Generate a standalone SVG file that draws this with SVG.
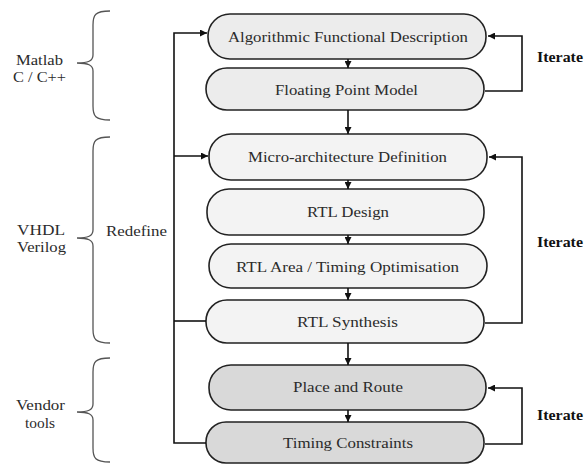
<svg xmlns="http://www.w3.org/2000/svg" width="584" height="464" viewBox="0 0 584 464" font-family="'Liberation Serif', 'Times New Roman', Times, serif">
<style>
.n{stroke:#222;stroke-width:1.6}
.a{fill:#ececec}.b{fill:#f3f3f3}.c{fill:#d9d9d9}
text{font-size:15px;fill:#2b2b2b}
.t,.l{text-anchor:middle}
.it{fill:#111;font-weight:bold}
.w{fill:none;stroke:#111;stroke-width:1.6}
.br{fill:none;stroke:#555;stroke-width:1.3}
</style>
<defs>
<marker id="ah" viewBox="0 0 10 10" refX="10" refY="5" markerWidth="7" markerHeight="7" markerUnits="userSpaceOnUse" orient="auto">
<path d="M0,0 L10,5 L0,10 z" fill="#111"/>
</marker>
</defs>
<rect width="584" height="464" fill="#fff"/>
<g id="braces">
<path class="br" d="M110,11 C95,11 93,15 93,25 L93,55 C93,61 88,63 77,63 C88,63 93,65 93,71 L93,106 C93,116 95,120 110,120"/>
<path class="br" d="M110,137 C95,137 93,141 93,151 L93,230 C93,236 88,238 77,238 C88,238 93,240 93,246 L93,329 C93,339 95,343 110,343"/>
<path class="br" d="M110,358 C95,358 93,362 93,372 L93,404 C93,410 88,412 77,412 C88,412 93,414 93,420 L93,448 C93,458 95,462 110,462"/>
</g>
<g id="labels" font-family="Liberation Serif, serif">
<text class="l" x="39.5" y="65" textLength="47" lengthAdjust="spacingAndGlyphs">Matlab</text>
<text class="l" x="39.5" y="82" textLength="53" lengthAdjust="spacingAndGlyphs">C / C++</text>
<text class="l" x="41" y="235" textLength="48" lengthAdjust="spacingAndGlyphs">VHDL</text>
<text class="l" x="41.5" y="252" textLength="49" lengthAdjust="spacingAndGlyphs">Verilog</text>
<text class="l" x="136.5" y="236" textLength="61" lengthAdjust="spacingAndGlyphs">Redefine</text>
<text class="l" x="40.5" y="410" textLength="49" lengthAdjust="spacingAndGlyphs">Vendor</text>
<text class="l" x="40" y="428" textLength="30" lengthAdjust="spacingAndGlyphs">tools</text>
<text class="it" x="537" y="62" textLength="46" lengthAdjust="spacingAndGlyphs">Iterate</text>
<text class="it" x="537" y="247" textLength="46" lengthAdjust="spacingAndGlyphs">Iterate</text>
<text class="it" x="537" y="420" textLength="46" lengthAdjust="spacingAndGlyphs">Iterate</text>
</g>
<g font-family="Liberation Serif, serif">
<g id="n1"><rect class="n a" x="208" y="14" width="278" height="45" rx="22"/><text class="t" x="348" y="42" textLength="240" lengthAdjust="spacingAndGlyphs">Algorithmic Functional Description</text></g>
<g id="n2"><rect class="n a" x="206" y="68" width="278" height="42" rx="21"/><text class="t" x="346.5" y="95" textLength="143" lengthAdjust="spacingAndGlyphs">Floating Point Model</text></g>
<g id="n3"><rect class="n b" x="209" y="134" width="278" height="46" rx="22"/><text class="t" x="347.5" y="162" textLength="199" lengthAdjust="spacingAndGlyphs">Micro-architecture Definition</text></g>
<g id="n4"><rect class="n b" x="207" y="189" width="277" height="46" rx="22"/><text class="t" x="348" y="217" textLength="82" lengthAdjust="spacingAndGlyphs">RTL Design</text></g>
<g id="n5"><rect class="n b" x="209" y="244" width="278" height="44" rx="22"/><text class="t" x="347.5" y="272" textLength="223" lengthAdjust="spacingAndGlyphs">RTL Area / Timing Optimisation</text></g>
<g id="n6"><rect class="n b" x="206" y="300" width="278" height="43" rx="21"/><text class="t" x="347.5" y="327" textLength="101" lengthAdjust="spacingAndGlyphs">RTL Synthesis</text></g>
<g id="n7"><rect class="n c" x="209" y="365" width="277" height="45" rx="22"/><text class="t" x="348" y="392" textLength="110" lengthAdjust="spacingAndGlyphs">Place and Route</text></g>
<g id="n8"><rect class="n c" x="206" y="422" width="278" height="41" rx="20"/><text class="t" x="348" y="448" textLength="130" lengthAdjust="spacingAndGlyphs">Timing Constraints</text></g>
</g>
<g id="connectors">
<path class="w" d="M348,59 L348,68" marker-end="url(#ah)"/>
<path class="w" d="M348,110 L348,134" marker-end="url(#ah)"/>
<path class="w" d="M348,180 L348,189" marker-end="url(#ah)"/>
<path class="w" d="M348,235 L348,244" marker-end="url(#ah)"/>
<path class="w" d="M348,288 L348,300" marker-end="url(#ah)"/>
<path class="w" d="M348,343 L348,365" marker-end="url(#ah)"/>
<path class="w" d="M348,410 L348,422" marker-end="url(#ah)"/>
<path class="w" d="M206,443 L174,443 L174,33 L207,33" marker-end="url(#ah)"/>
<path class="w" d="M174,156 L208,156" marker-end="url(#ah)"/>
<path class="w" d="M174,321 L206,321"/>
<path class="w" d="M485,91 L522,91 L522,36 L488,36" marker-end="url(#ah)"/>
<path class="w" d="M485,323 L522,323 L522,157 L489,157" marker-end="url(#ah)"/>
<path class="w" d="M485,444 L522,444 L522,388 L488,388" marker-end="url(#ah)"/>
</g>
</svg>
